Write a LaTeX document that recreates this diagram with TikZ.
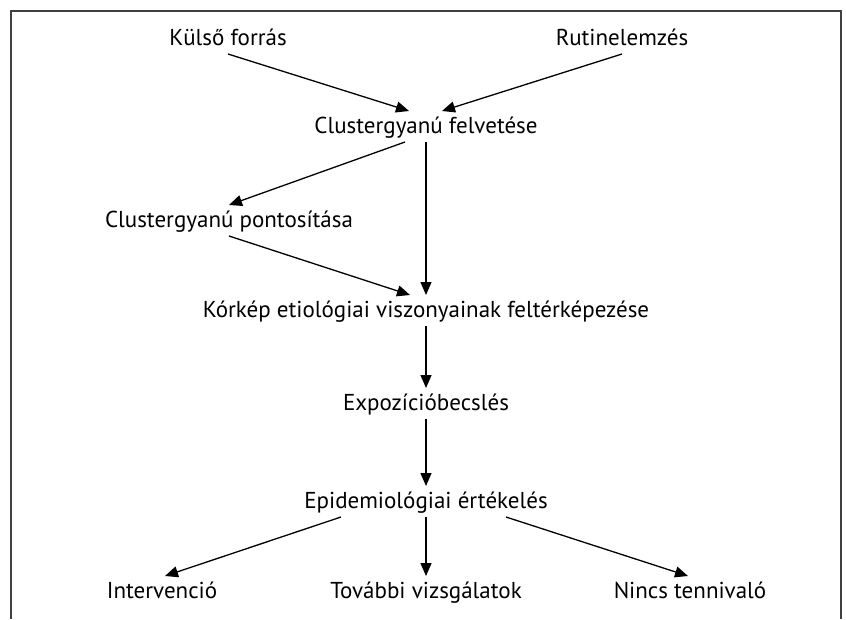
\documentclass[tikz,border=0pt]{standalone}
\usepackage{fontspec}
\setmainfont{PT Sans}
\usetikzlibrary{arrows.meta}
\tikzset{
  stage/.style={anchor=base, inner xsep=0pt, inner ysep=5pt, outer sep=0pt,
    text height=17pt, text depth=4pt, font=\fontsize{23}{27}\selectfont},
  flow/.style={line width=1.3pt, -{Triangle[length=13pt,width=11pt]}},
  frame/.style={line width=1.8pt, black!75}
}
\begin{document}
\begin{tikzpicture}[x=1pt, y=-1pt]
        \useasboundingbox (0,0) rectangle (846,619);
        \draw[frame] (11,619) -- (11,11) -- (841,11) -- (841,619);
        \node[stage] (kulso)   at (228,45)  {Külső forrás};
        \node[stage] (rutin)   at (622,45)  {Rutinelemzés};
        \node[stage] (felvet)  at (426,133) {Clustergyanú felvetése};
        \node[stage] (pontos)  at (229,227) {Clustergyanú pontosítása};
        \node[stage] (korkep)  at (426,317) {Kórkép etiológiai viszonyainak feltérképezése};
        \node[stage] (expoz)   at (426,410) {Expozícióbecslés};
        \node[stage] (epid)    at (426,508) {Epidemiológiai értékelés};
        \node[stage] (interv)  at (162,598) {Intervenció};
        \node[stage] (tovabbi) at (426,598) {További vizsgálatok};
        \node[stage] (nincs)   at (690,598) {Nincs tennivaló};
        \draw[flow] (kulso.south) -- ([xshift=-17pt]felvet.north);
        \draw[flow] (rutin.south) -- ([xshift=16pt]felvet.north);
        \draw[flow] ([xshift=-21pt]felvet.south) -- (pontos.north);
        \draw[flow] (felvet.south) -- (korkep.north);
        \draw[flow] (pontos.south) -- ([xshift=-16pt]korkep.north);
        \draw[flow] (korkep.south) -- (expoz.north);
        \draw[flow] (expoz.south) -- (epid.north);
        \draw[flow] ([xshift=-85pt]epid.south) -- ([xshift=3pt]interv.north);
        \draw[flow] (epid.south) -- (tovabbi.north);
        \draw[flow] ([xshift=80pt]epid.south) -- ([xshift=-2pt]nincs.north);
\end{tikzpicture}
\end{document}
